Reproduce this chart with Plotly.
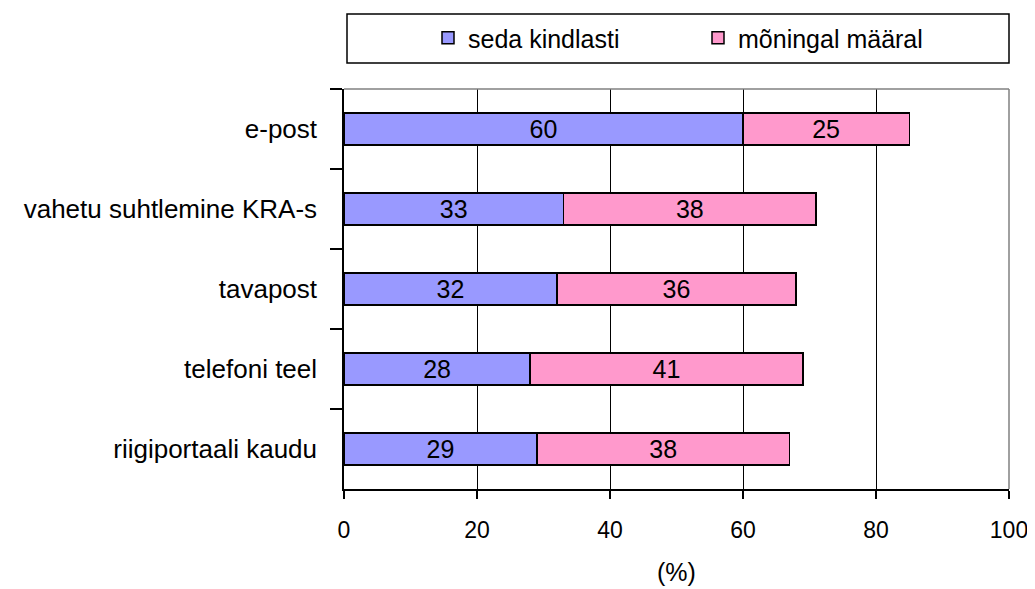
import plotly.graph_objects as go

categories = ["e-post", "vahetu suhtlemine KRA-s", "tavapost", "telefoni teel", "riigiportaali kaudu"]
seda_kindlasti = [60, 33, 32, 28, 29]
moningal_maaral = [25, 38, 36, 41, 38]
series_names = ["seda kindlasti", "mõningal määral"]
x_ticks = [0, 20, 40, 60, 80, 100]

FONT = "Liberation Sans, Arial, sans-serif"
OFF = 8  # default page body margin in the written html
W, H = 1035 - OFF, 589 - OFF
L, R, T, B = 344 - OFF, 26, 89 - OFF, 100
pw = W - L - R
ph = H - T - B


def py(y_page):
    # page pixel y -> paper coordinate
    return (589 - B - y_page) / ph


def px(x_page):
    return (x_page - 344) / pw


fig = go.Figure()
for name, vals, color in [
    (series_names[0], seda_kindlasti, "#9999FF"),
    (series_names[1], moningal_maaral, "#FF99CC"),
]:
    fig.add_trace(go.Bar(
        y=categories, x=vals, name=name, orientation="h",
        marker=dict(color=color, line=dict(color="black", width=1.5)),
        width=0.4,
        text=vals, texttemplate="%{x}", textposition="inside",
        insidetextanchor="middle", constraintext="none", textangle=0,
        textfont=dict(family=FONT, size=25, color="black"),
        hoverinfo="x+y+name",
    ))

fig.update_layout(
    barmode="stack",
    width=W, height=H,
    margin=dict(l=L, r=R, t=T, b=B, autoexpand=False),
    paper_bgcolor="white", plot_bgcolor="white",
    font=dict(family=FONT, size=24, color="black"),
    showlegend=True,
    legend=dict(
        orientation="h",
        x=px(448 - 20), xanchor="left",
        y=py(38), yanchor="middle",
        bgcolor="rgba(0,0,0,0)", borderwidth=0,
        entrywidth=265 - 40, entrywidthmode="pixels",
        font=dict(family=FONT, size=25, color="black"),
        traceorder="normal",
    ),
    xaxis=dict(
        range=[0, 100], tickvals=x_ticks, ticktext=[str(v) for v in x_ticks],
        tickfont=dict(family=FONT, size=23, color="black"),
        showgrid=True, gridcolor="black", gridwidth=1,
        showline=True, linecolor="black", linewidth=1.5,
        ticks="outside", ticklen=8, tickcolor="black", tickwidth=1.5,
        ticklabelstandoff=12, zeroline=False,
        title=dict(text="(%)", standoff=21, font=dict(family=FONT, size=25)),
        automargin=False, fixedrange=True,
    ),
    yaxis=dict(
        categoryorder="array", categoryarray=categories, autorange="reversed",
        tickfont=dict(family=FONT, size=26, color="black"),
        showline=True, linecolor="black", linewidth=1.5,
        ticks="outside", ticklen=12, tickcolor="black", tickwidth=1.5,
        tickson="boundaries", ticklabelstandoff=20,
        showgrid=False, automargin=False, fixedrange=True,
    ),
    shapes=[
        # gray frame: top and right edges of the plot area
        dict(type="line", xref="paper", yref="paper", x0=0, x1=1, y0=1, y1=1,
             line=dict(color="#808080", width=1.5), layer="above"),
        dict(type="line", xref="paper", yref="paper", x0=1, x1=1, y0=0, y1=1,
             line=dict(color="#808080", width=1.5), layer="above"),
        # legend box
        dict(type="rect", xref="paper", yref="paper",
             x0=px(347), x1=1.0,
             y0=py(63), y1=py(14),
             line=dict(color="black", width=1.5), fillcolor="rgba(0,0,0,0)"),
    ],
)

fig.write_html("out.html")
